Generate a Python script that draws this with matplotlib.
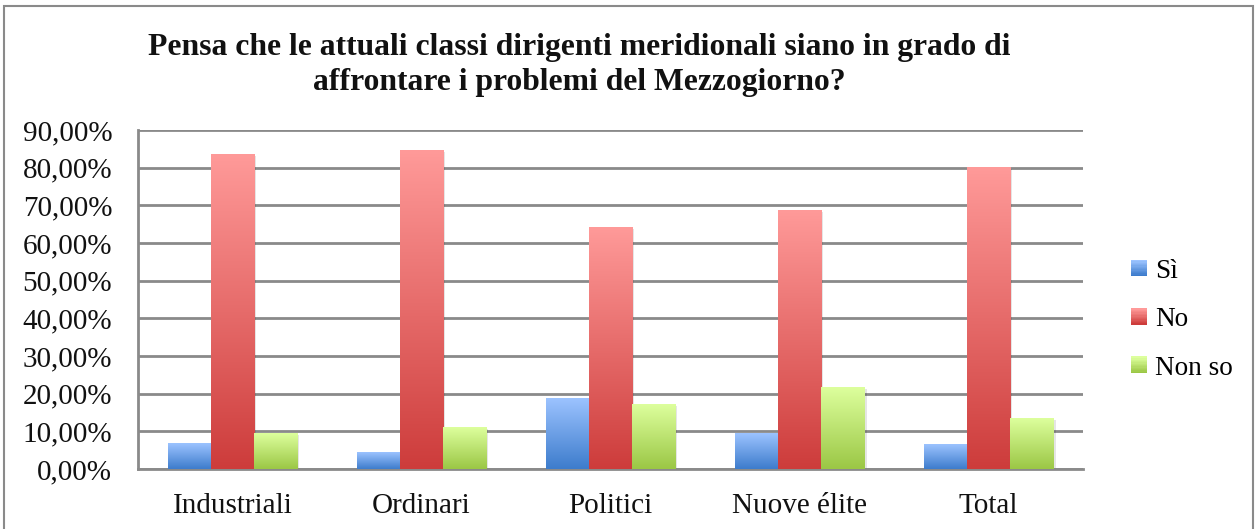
import numpy as np
import matplotlib
matplotlib.use("Agg")
import matplotlib.pyplot as plt
from matplotlib.colors import LinearSegmentedColormap
from matplotlib.patches import Rectangle
from matplotlib.legend_handler import HandlerBase
from matplotlib.ticker import FuncFormatter

# ── data ─────────────────────────────────────────────────────────────────────
categories = ["Industriali", "Ordinari", "Politici", "Nuove élite", "Total"]
series     = ["Sì", "No", "Non so"]
si_vals    = [0.069, 0.045, 0.186, 0.095, 0.066]
no_vals    = [0.836, 0.846, 0.642, 0.687, 0.801]
nonso_vals = [0.095, 0.109, 0.172, 0.217, 0.135]
yticks     = [0.0, 0.1, 0.2, 0.3, 0.4, 0.5, 0.6, 0.7, 0.8, 0.9]

# (top colour, bottom colour) for each series
GRADS = [("#9cc3ff", "#3d7ccc"),
         ("#ff9a99", "#cd3c3b"),
         ("#ddff9d", "#9bc745")]

SERIF = ["Liberation Serif", "DejaVu Serif"]

fig = plt.figure(figsize=(12.58, 5.29), dpi=100)
ax  = fig.add_axes([0.1097, 0.1134, 0.861 - 0.1097, 0.7543 - 0.1134])

# outer chart frame
fig.patches.append(Rectangle((4 / 1258, -0.02), 1 - 9 / 1258, 1 - 6 / 529 + 0.02,
                             transform=fig.transFigure, fill=False,
                             edgecolor="#8a8a8a", linewidth=1.5, zorder=0))

x     = np.arange(len(categories))
bar_w = 0.228
grad  = np.linspace(1, 0, 256).reshape(-1, 1)

for i, vals in enumerate([si_vals, no_vals, nonso_vals]):
    cmap = LinearSegmentedColormap.from_list("g%d" % i, [GRADS[i][1], GRADS[i][0]])
    offs = (i - 1) * bar_w
    bars = ax.bar(x + offs, vals, bar_w, color="none", edgecolor="none", zorder=3)
    for b, v in zip(bars, vals):
        x0 = b.get_x()
        # soft shadow
        ax.add_patch(Rectangle((x0 + 0.012, -0.004), bar_w, v, facecolor="#000000",
                               alpha=0.10, edgecolor="none", zorder=2.5))
        ax.imshow(grad[::-1], extent=(x0, x0 + bar_w, 0, v), cmap=cmap,
                  aspect="auto", origin="lower", zorder=3 + i * 0.01,
                  interpolation="bicubic")

ax.set_xlim(-0.5, len(categories) - 0.5)
ax.set_ylim(0, 0.9)
ax.set_yticks(yticks)
ax.yaxis.set_major_formatter(FuncFormatter(lambda v, _: f"{v * 100:.2f}%".replace(".", ",")))
ax.set_xticks(x)
ax.set_xticklabels(categories)

ax.grid(axis="y", color="#8a8a8a", linewidth=2, zorder=1)
ax.set_axisbelow(True)
for s in ["top", "right"]:
    ax.spines[s].set_visible(False)
for s in ["left", "bottom"]:
    ax.spines[s].set_color("#8a8a8a")
    ax.spines[s].set_linewidth(2)
ax.tick_params(length=0, labelsize=21)
ax.tick_params(axis="y", pad=18.5)
ax.tick_params(axis="x", pad=17)
for lab in ax.get_xticklabels() + ax.get_yticklabels():
    lab.set_family(SERIF)
    lab.set_color("#111111")

fig.text(579 / 1258, 1 - 65 / 529,
         "Pensa che le attuali classi dirigenti meridionali siano in grado di\n"
         "affrontare i problemi del Mezzogiorno?",
         family=SERIF, fontweight="bold", fontsize=22.8, ha="center", va="center",
         linespacing=1.3, color="#111111")


class GradHandler(HandlerBase):
    def __init__(self, top, bot):
        super().__init__()
        self.top, self.bot = top, bot

    def create_artists(self, legend, orig, xd, yd, w, h, fontsize, trans):
        cm = LinearSegmentedColormap.from_list("lg", [self.bot, self.top])
        n = 12
        side = min(w, h) * 0.85
        xs = xd + (w - side)
        y0 = yd + (h - side) / 2
        arts = []
        for k in range(n):
            arts.append(Rectangle((xs, y0 + k * side / n), side, side / n + 0.3,
                                  facecolor=cm(k / (n - 1)), edgecolor="none",
                                  transform=trans))
        return arts


handles = [Rectangle((0, 0), 1, 1) for _ in series]
hmap = {h: GradHandler(*g) for h, g in zip(handles, GRADS)}
leg = fig.legend(handles, series, handler_map=hmap, loc="center left",
                 bbox_to_anchor=(0.887, 0.396), frameon=False,
                 prop={"family": SERIF, "size": 19.6}, labelspacing=0.86,
                 handlelength=0.75, handletextpad=0.3, borderaxespad=0)

fig.savefig("out.png", dpi=100)
